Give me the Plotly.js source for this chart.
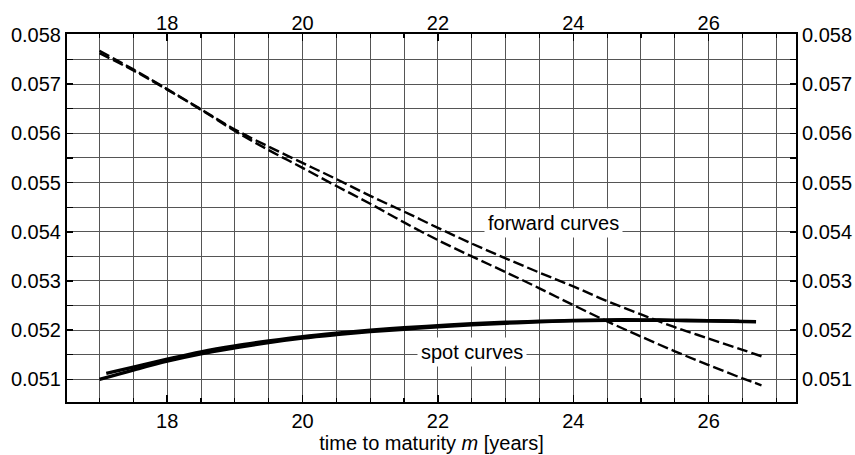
<!DOCTYPE html>
<html>
<head>
<meta charset="utf-8">
<script src="https://cdn.plot.ly/plotly-3.0.1.min.js"></script>
<style>html,body{margin:0;padding:0;background:#fff}#chart{width:855px;height:455px}</style>
</head>
<body>
<div id="chart"></div>
<script>
// Forward curves (dashed)
var fwdX = [17, 17.5, 18, 18.5, 19, 19.5, 20, 20.5, 21, 21.5, 22, 22.5, 23, 23.5, 24, 24.5, 25, 25.5, 26, 26.5, 26.78];
var fwdUpper = [0.05768, 0.05730, 0.05690, 0.05649, 0.05608, 0.05573, 0.05540, 0.05507, 0.05473, 0.05441, 0.05408, 0.05376, 0.05346, 0.05317, 0.05289, 0.05259, 0.05232, 0.05206, 0.05183, 0.05160, 0.05147];
var fwdLower = [0.05763, 0.05728, 0.05689, 0.05648, 0.05605, 0.05566, 0.05530, 0.05493, 0.05457, 0.05419, 0.05383, 0.05350, 0.05318, 0.05285, 0.05251, 0.05218, 0.05187, 0.05157, 0.05129, 0.05102, 0.05088];
// Spot curves (solid, thick)
var spot1X = [17, 17.5, 18, 18.5, 19, 19.5, 20, 20.5, 21, 21.5, 22, 22.5, 23, 23.5, 24, 24.5, 25, 25.5, 26, 26.45];
var spot1Y = [0.05100, 0.05119, 0.05137, 0.05152, 0.05164, 0.05175, 0.05184, 0.05191, 0.05197, 0.05202, 0.05207, 0.05211, 0.05214, 0.05217, 0.05219, 0.05220, 0.05220, 0.05220, 0.05219, 0.05218];
var spot2X = [17.1, 17.5, 18, 18.5, 19, 19.5, 20, 20.5, 21, 21.5, 22, 22.5, 23, 23.5, 24, 24.5, 25, 25.5, 26, 26.7];
var spot2Y = [0.05112, 0.05125, 0.05141, 0.05156, 0.05168, 0.05178, 0.05187, 0.05194, 0.05200, 0.05205, 0.05209, 0.05213, 0.05216, 0.05218, 0.05220, 0.05221, 0.05221, 0.05220, 0.05219, 0.05217];

var xRange = [16.52, 27.29];
var yRange = [0.05054, 0.05802];
var labelFwd = "forward curves";
var labelSpot = "spot curves";
var xTitle = "time to maturity <i>m</i> [years]";

var FONT = "Liberation Sans, Arial, Helvetica, sans-serif";
var FS = 20;
var GRID = "#555555";

var traces = [
  {x: fwdX, y: fwdUpper, mode: "lines", line: {color: "black", width: 2.4, dash: "11px,4px", shape: "spline"}, hoverinfo: "none"},
  {x: fwdX, y: fwdLower, mode: "lines", line: {color: "black", width: 2.4, dash: "11px,4px", shape: "spline"}, hoverinfo: "none"},
  {x: spot1X, y: spot1Y, mode: "lines", line: {color: "black", width: 3.4, shape: "spline"}, hoverinfo: "none"},
  {x: spot2X, y: spot2Y, mode: "lines", line: {color: "black", width: 3.4, shape: "spline"}, hoverinfo: "none"},
  {x: [], y: [], xaxis: "x2", yaxis: "y2", mode: "lines", hoverinfo: "none"}
];

function xAxisBase(side) {
  return {
    range: xRange, autorange: false, side: side,
    tick0: 0, dtick: 2, ticks: "inside", ticklen: 7, tickwidth: 1.5, tickcolor: "black",
    showline: true, linecolor: "black", linewidth: 2,
    zeroline: false, fixedrange: true,
    tickfont: {family: FONT, size: FS, color: "black"},
    minor: {tick0: 0, dtick: 0.5, ticks: "inside", ticklen: 4, tickwidth: 1.2, tickcolor: "black",
            showgrid: side === "bottom", gridcolor: GRID, gridwidth: 1},
    showgrid: side === "bottom", gridcolor: GRID, gridwidth: 1
  };
}
function yAxisBase(side) {
  return {
    range: yRange, autorange: false, side: side,
    tick0: 0, dtick: 0.001, tickformat: ".3f", ticks: "inside", ticklen: 6, tickwidth: 1.5, tickcolor: "black",
    showline: true, linecolor: "black", linewidth: 2,
    zeroline: false, fixedrange: true,
    tickfont: {family: FONT, size: FS, color: "black"},
    minor: {tick0: 0, dtick: 0.0005, ticks: "inside", ticklen: 6, tickwidth: 1.2, tickcolor: "black",
            showgrid: side === "left", gridcolor: GRID, gridwidth: 1},
    showgrid: side === "left", gridcolor: GRID, gridwidth: 1
  };
}

var xa = xAxisBase("bottom");
xa.title = {text: xTitle, font: {family: FONT, size: FS, color: "black"}, standoff: 4};
var xa2 = xAxisBase("top");
xa2.overlaying = "x"; xa2.anchor = "y";
xa2.ticklabelposition = "outside";
xa2.ticklabelstandoff = -6;
var ya = yAxisBase("left");
var ya2 = yAxisBase("right");
ya2.overlaying = "y"; ya2.anchor = "x";

var layout = {
  width: 855, height: 455,
  margin: {l: 67, r: 59, t: 34, b: 53, pad: 0},
  paper_bgcolor: "white", plot_bgcolor: "white",
  showlegend: false,
  font: {family: FONT, size: FS, color: "black"},
  xaxis: xa, xaxis2: xa2, yaxis: ya, yaxis2: ya2,
  annotations: [
    {x: 23.70, y: 0.054179, xref: "x", yref: "y", text: labelFwd, showarrow: false,
     bgcolor: "white", borderpad: 3, font: {family: FONT, size: FS, color: "black"}},
    {x: 22.506, y: 0.051563, xref: "x", yref: "y", text: labelSpot, showarrow: false,
     bgcolor: "white", borderpad: 3, font: {family: FONT, size: FS, color: "black"}}
  ]
};

Plotly.newPlot("chart", traces, layout, {staticPlot: true, displayModeBar: false});
</script>
</body>
</html>
